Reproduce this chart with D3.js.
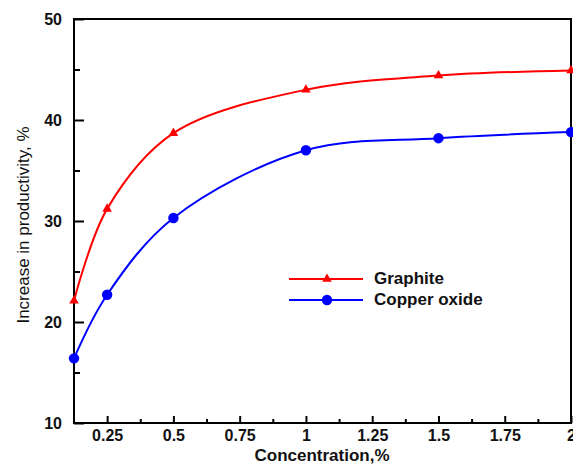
<!DOCTYPE html>
<html>
<head>
<meta charset="utf-8">
<script src="https://cdn.jsdelivr.net/npm/d3@7"></script>
<style>
  body { margin: 0; background: #fff; }
  text { font-family: "Liberation Sans", Arial, sans-serif; }
</style>
</head>
<body>
<svg id="chart" width="573" height="464"></svg>
<script>
const concentration = [0.125, 0.25, 0.5, 1, 1.5, 2]
const graphite = [22.1, 31.2, 38.7, 43.0, 44.4, 44.9]
const copperOxide = [16.4, 22.7, 30.3, 37.0, 38.2, 38.8]
const xTicks = [0.25, 0.5, 0.75, 1, 1.25, 1.5, 1.75, 2]
const xMinor = [0.375, 0.625, 0.875, 1.125, 1.375, 1.625, 1.875]
const yTicks = [10, 20, 30, 40, 50]
const yMinor = [15, 25, 35, 45]
const seriesNames = ["Graphite", "Copper oxide"]

const margin = {top: 19, right: 2, bottom: 41, left: 74}
let width = 573 - margin.left - margin.right,
    height = 464 - margin.top - margin.bottom;

let x = d3.scaleLinear().domain([0.125, 2]).range([0, width])
let y = d3.scaleLinear().domain([10, 50]).range([height, 0])

let chart = d3.select("#chart")
  .append("g")
    .attr("transform", "translate(" + margin.left + "," + margin.top + ")");

// frame round the plot
chart.append("rect")
  .attr("width", width).attr("height", height)
  .attr("fill", "none").attr("stroke", "#000").attr("stroke-width", 2)

// axes, ticks pointing inward
let xAxis = d3.axisBottom(x).tickValues(xTicks).tickSize(-7).tickPadding(7)
  .tickFormat(d => d)
let gx = chart.append("g").attr("transform", "translate(0," + height + ")").call(xAxis)
chart.append("g").attr("transform", "translate(0," + height + ")")
  .call(d3.axisBottom(x).tickValues(xMinor).tickSize(-4).tickFormat(""))

let yAxis = d3.axisLeft(y).tickValues(yTicks).tickSize(-10).tickPadding(12)
let gy = chart.append("g").call(yAxis)
chart.append("g").call(d3.axisLeft(y).tickValues(yMinor).tickSize(-6).tickFormat(""))

chart.selectAll(".domain").remove()
chart.selectAll(".tick line").attr("stroke", "#000").attr("stroke-width", 2)
chart.selectAll(".tick text")
  .style("font-size", "16px").style("font-weight", "bold").attr("fill", "#111")
  .style("font-family", "'Liberation Sans', Arial, sans-serif")

// lines + markers
let series = [
  {name: seriesNames[0], values: graphite, color: "#ff0000", shape: d3.symbolTriangle, size: 40},
  {name: seriesNames[1], values: copperOxide, color: "#0000ff", shape: d3.symbolCircle, size: 85}
]
let line = d3.line()
  .x((d, i) => x(concentration[i]))
  .y(d => y(d))
  .curve(d3.curveCatmullRom.alpha(0.5))

series.forEach(function(s) {
  chart.append("path")
    .datum(s.values)
    .attr("d", line)
    .attr("fill", "none")
    .attr("stroke", s.color)
    .attr("stroke-width", 2)
  chart.selectAll(null)
    .data(s.values)
    .enter().append("path")
    .attr("transform", (d, i) => "translate(" + x(concentration[i]) + "," + y(d) + ")")
    .attr("d", d3.symbol().type(s.shape).size(s.size))
    .attr("fill", s.color)
})

// legend
let legend = chart.append("g").attr("transform", "translate(215,260)")
series.forEach(function(s, i) {
  let row = legend.append("g").attr("transform", "translate(0," + (i * 21) + ")")
  row.append("line").attr("x1", 0).attr("x2", 74)
    .attr("stroke", s.color).attr("stroke-width", 2)
  row.append("path").attr("transform", "translate(38,0)")
    .attr("d", d3.symbol().type(s.shape).size(s.size)).attr("fill", s.color)
  row.append("text").attr("x", 85).attr("y", 5)
    .style("font-size", "17px").style("font-weight", "bold").attr("fill", "#111")
    .text(s.name)
})

// axis titles
chart.append("text")
  .attr("x", 248).attr("y", height + 38)
  .attr("text-anchor", "middle")
  .style("font-size", "17px").style("font-weight", "bold").attr("fill", "#111")
  .text("Concentration,%")
chart.append("text")
  .attr("transform", "rotate(-90)")
  .attr("x", -(225 - margin.top)).attr("y", -45)
  .attr("text-anchor", "middle")
  .style("font-size", "17px").attr("fill", "#111")
  .text("Increase in productivity, %")
</script>
</body>
</html>
